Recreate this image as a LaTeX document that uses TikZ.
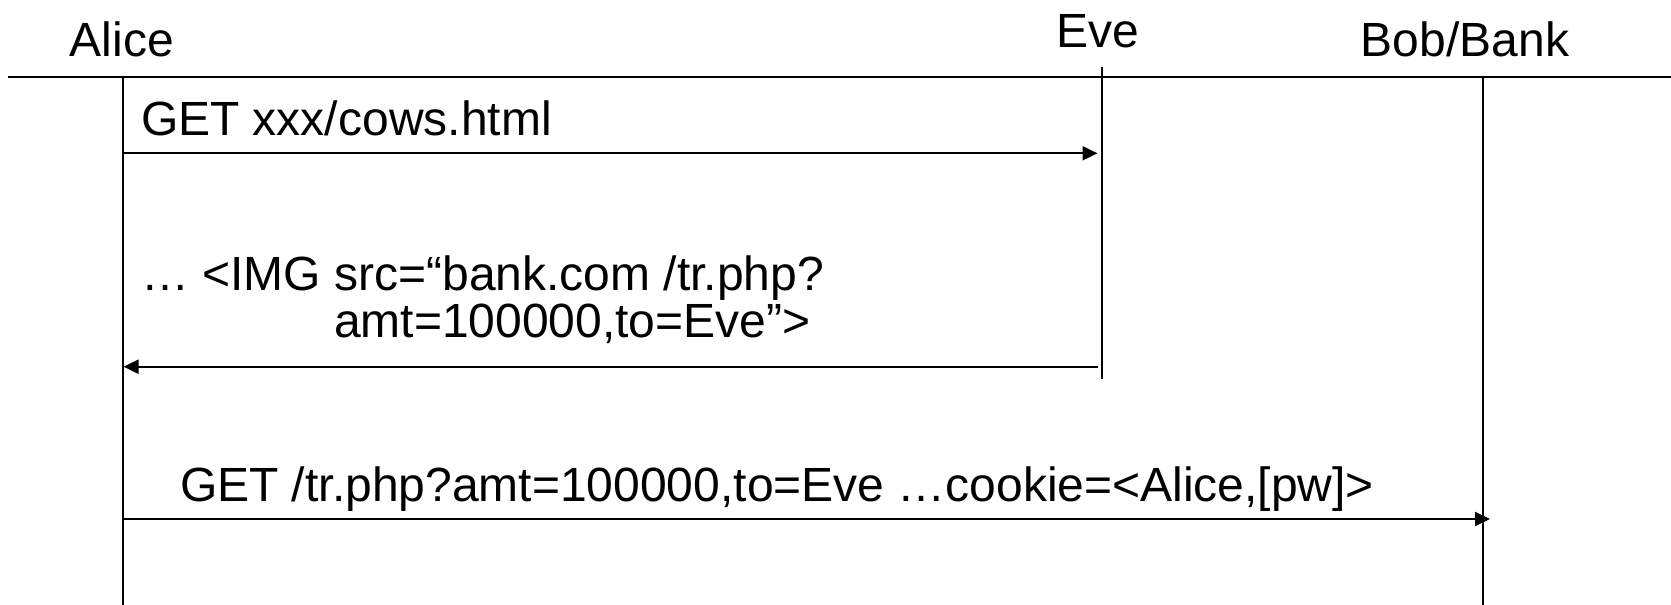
\documentclass[tikz,border=0pt]{standalone}
\usepackage{fontspec}
\setmainfont{Liberation Sans}
\usetikzlibrary{arrows.meta}

\begin{document}
\begin{tikzpicture}[x=0.5pt,y=-0.5pt,
    line width=1pt,
    lbl/.style={inner sep=0pt,outer sep=0pt,font=\fontsize{24pt}{29pt}\selectfont},
    who/.style={lbl,anchor=base},
    msg/.style={lbl,anchor=base west},
    lifeline/.style={draw=black,line width=1pt},
    call/.style={draw=black,line width=1pt,-{Triangle[length=7.5pt,width=7pt]}}]
  \useasboundingbox (0,0) rectangle (1671,605);

  % participants
  \node[who] (alice) at (122,56) {Alice};
  \node[who] (eve)   at (1097.5,47) {Eve};
  \node[who] (bob)   at (1465,56) {Bob/Bank};

  % header rule
  \coordinate (ruleL) at (8,76.7);
  \coordinate (ruleR) at (1671,76.7);
  \draw[lifeline] (ruleL) -- (ruleR);

  % lifelines
  \coordinate (aliceTop) at (123,76.7);
  \coordinate (aliceBot) at (123,605);
  \coordinate (eveTop)   at (1102.3,66.5);
  \coordinate (eveBot)   at (1102.3,379);
  \coordinate (bobTop)   at (1483,76.7);
  \coordinate (bobBot)   at (1483,605);
  \draw[lifeline] (aliceTop) -- (aliceBot);
  \draw[lifeline] (eveTop) -- (eveBot);
  \draw[lifeline] (bobTop) -- (bobBot);

  % message end points on the lifelines
  \coordinate (m1from) at (123,153.3);
  \coordinate (m1to)   at (1097.5,153.3);
  \coordinate (m2from) at (1098,366.7);
  \coordinate (m2to)   at (123.5,366.7);
  \coordinate (m3from) at (123,519);
  \coordinate (m3to)   at (1490,519);

  % messages
  \draw[call] (m1from) -- (m1to);
  \node[msg] (t1) at (141,135) {GET xxx/cows.html};

  \draw[call] (m2from) -- (m2to);
  \node[msg] (t2a) at (141,290) {… <IMG src=“bank.com /tr.php?};
  \node[msg] (t2b) at (334,337) {amt=100000,to=Eve”>};

  \draw[call] (m3from) -- (m3to);
  \node[msg] (t3) at (180,501) {GET /tr.php?amt=100000,to=Eve …cookie=<Alice,[pw]>};
\end{tikzpicture}
\end{document}
